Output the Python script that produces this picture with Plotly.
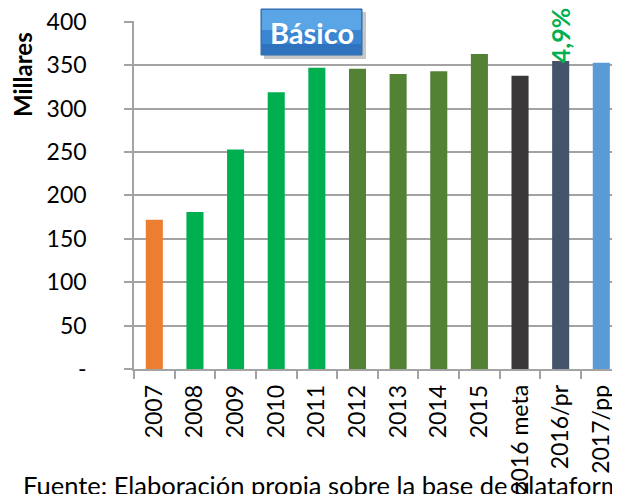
import plotly.graph_objects as go

categories = ["2007", "2008", "2009", "2010", "2011", "2012", "2013", "2014",
              "2015", "2016 meta", "2016/pr", "2017/pp"]
values = [172, 181, 253, 319, 347, 346, 340, 343, 363, 338, 355, 353]
bar_colors = ["#ED7D31", "#00B050", "#00B050", "#00B050", "#00B050",
              "#548235", "#548235", "#548235", "#548235",
              "#3A3838", "#44546A", "#5B9BD5"]
y_tickvals = [0, 50, 100, 150, 200, 250, 300, 350, 400]
y_ticktext = ["-", "50", "100", "150", "200", "250", "300", "350", "400"]
growth_label = "4,9%"
growth_category = "2016/pr"
box_label = "Básico"
y_title = "Millares"
source_text = "Fuente: Elaboración propia sobre la base de plataforma"

OFF = 8  # page body margin
W, H = 620 - OFF, 494 - OFF
L, R, T, B = 134 - OFF, 0, 21 - OFF, 125
PW, PH = W - L - R, H - T - B
FONT = "Lato"
GRID = "#A3A3A3"


def px(X):
    return (X - OFF - L) / PW


def py(Y):
    return (H - B - (Y - OFF)) / PH


fig = go.Figure()
fig.add_trace(go.Bar(
    x=categories, y=values, marker=dict(color=bar_colors, line=dict(width=0)),
    showlegend=False, hoverinfo="x+y",
))

fig.update_layout(
    width=W, height=H,
    margin=dict(l=L, r=R, t=T, b=B, pad=0),
    paper_bgcolor="white", plot_bgcolor="white",
    bargap=0.58,
    font=dict(family=FONT, color="#000000", size=23),
    xaxis=dict(
        type="category", range=[-0.5, 11.46], tickangle=-90,
        showline=True, linecolor=GRID, linewidth=1.5,
        ticks="outside", ticklen=8, tickcolor=GRID, tickwidth=1.5,
        tickson="boundaries", showgrid=False, automargin=False,
        tickfont=dict(family=FONT, size=23, color="#000000"),
        ticklabelstandoff=5, ticklabeloverflow="allow",
    ),
    yaxis=dict(
        range=[0, 401], tickvals=y_tickvals, ticktext=y_ticktext,
        showline=True, linecolor=GRID, linewidth=1.5,
        ticks="outside", ticklen=8, tickcolor=GRID, tickwidth=1.5,
        showgrid=True, gridcolor=GRID, gridwidth=1.5, zeroline=False,
        automargin=False,
        tickfont=dict(family=FONT, size=23, color="#000000"),
        ticklabelstandoff=33, ticklabeloverflow="allow",
    ),
)

shapes = [
    dict(type="rect", xref="paper", yref="paper",
         x0=px(264), x1=px(366), y0=py(59), y1=py(12),
         fillcolor="rgba(0,0,0,0.22)", line=dict(width=0), layer="above"),
    dict(type="rect", xref="paper", yref="paper",
         x0=px(261), x1=px(362), y0=py(55), y1=py(9),
         fillcolor="#3A86D2", line=dict(color="#2A64A6", width=1), layer="above"),
    dict(type="rect", xref="paper", yref="paper",
         x0=px(262), x1=px(361), y0=py(30), y1=py(10),
         fillcolor="#5AA5E6", line=dict(width=0), layer="above"),
    dict(type="rect", xref="paper", yref="paper",
         x0=px(262), x1=px(361), y0=py(54), y1=py(44),
         fillcolor="#2F72BD", line=dict(width=0), layer="above"),
]
fig.update_layout(shapes=shapes)

annotations = [
    dict(text="<b>%s</b>" % box_label, xref="paper", yref="paper",
         x=px(311.5), y=py(32), xanchor="center", yanchor="middle",
         showarrow=False, font=dict(family=FONT, size=29, color="white")),
    dict(text="<b>%s</b>" % growth_label, xref="x", yref="paper",
         x=growth_category, y=py(65), xanchor="center", yanchor="bottom",
         textangle=-90, showarrow=False,
         font=dict(family=FONT, size=25, color="#00B050")),
    dict(text="<b>%s</b>" % y_title, xref="paper", yref="paper",
         x=px(22), y=py(75), xanchor="center", yanchor="middle",
         textangle=-90, showarrow=False,
         font=dict(family=FONT, size=24, color="#000000")),
    dict(text=source_text, xref="paper", yref="paper",
         x=px(22), y=py(469), xanchor="left", yanchor="top",
         showarrow=False, borderpad=0,
         font=dict(family=FONT, size=25.5, color="#000000")),
]
fig.update_layout(annotations=annotations)

fig.write_html("out.html")
